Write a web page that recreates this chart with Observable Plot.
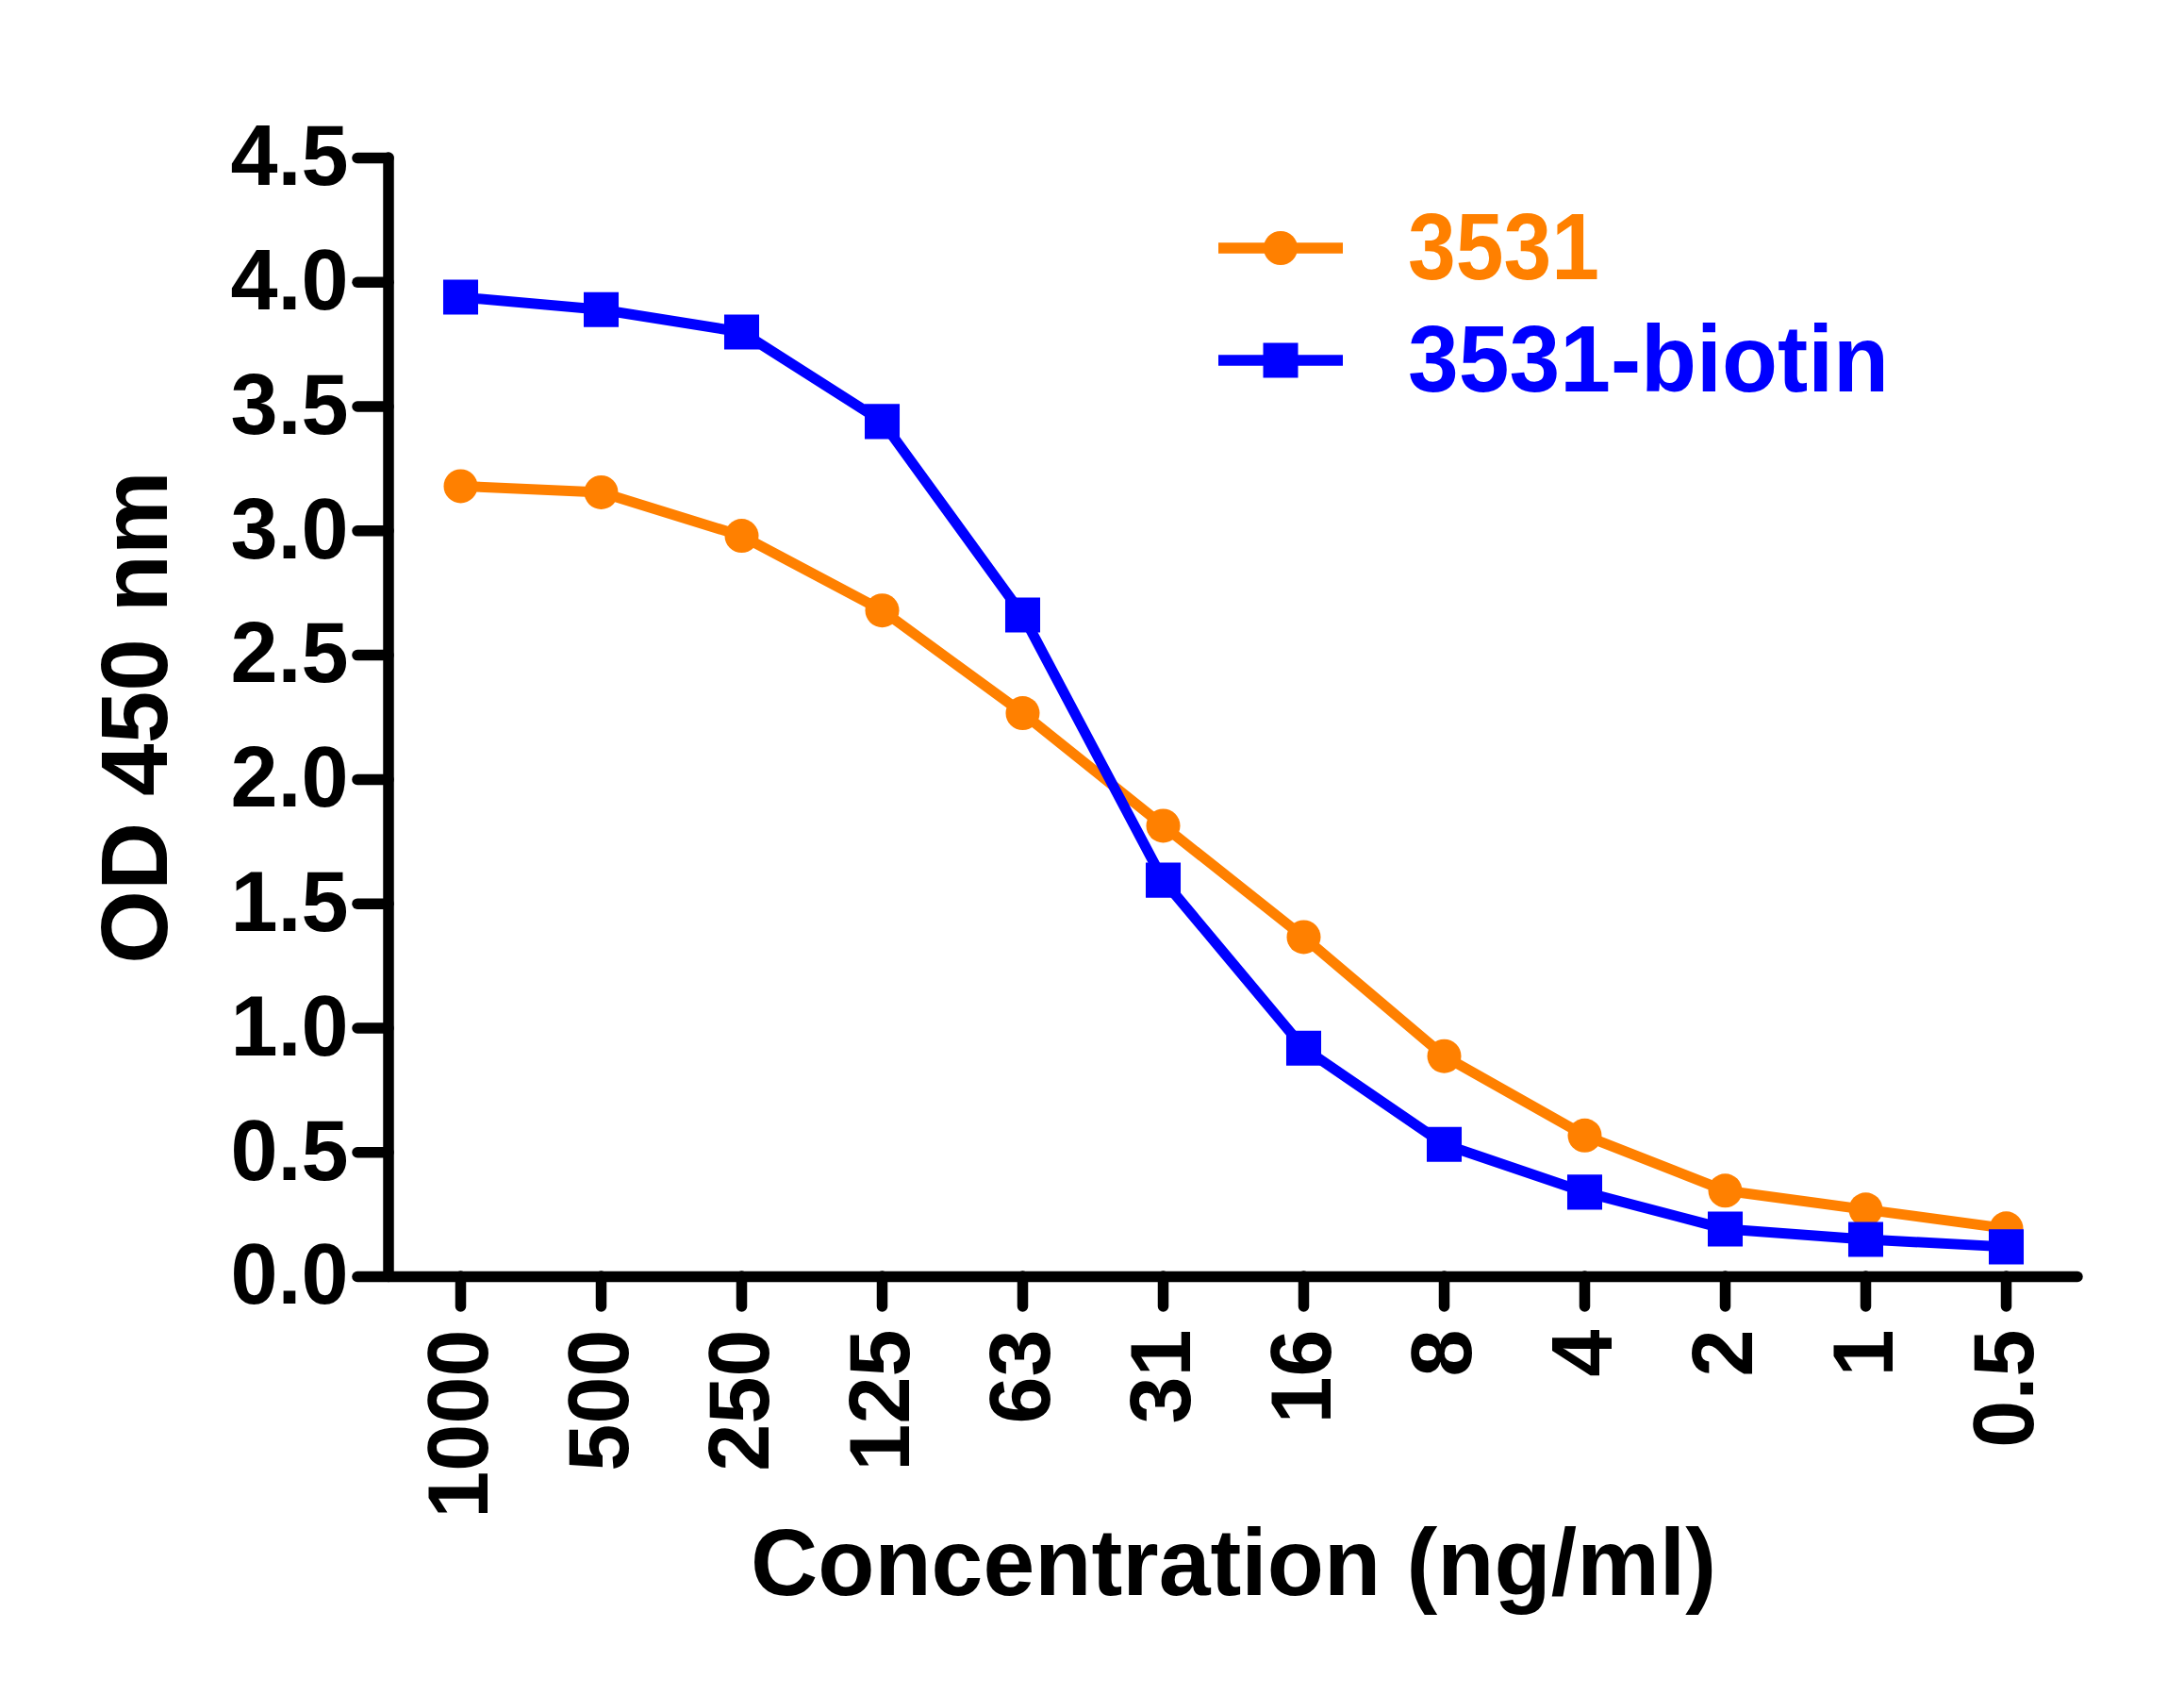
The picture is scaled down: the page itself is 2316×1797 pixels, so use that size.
<!DOCTYPE html>
<html>
<head>
<meta charset="utf-8">
<script src="https://cdn.jsdelivr.net/npm/d3@7"></script>
<script src="https://cdn.jsdelivr.net/npm/@observablehq/plot@0.6"></script>
<style>
  html, body { margin: 0; padding: 0; background: #fff; overflow: hidden; }
  #chart svg { display: block; }
</style>
</head>
<body>
<div id="chart"></div>
<script>
// ---- data ----
const concentrations = ["1000", "500", "250", "125", "63", "31", "16", "8", "4", "2", "1", "0.5"];
const od3531       = [3.18, 3.155, 2.98, 2.68, 2.267, 1.814, 1.366, 0.887, 0.568, 0.346, 0.270, 0.194];
const od3531Biotin = [3.94, 3.89, 3.80, 3.44, 2.662, 1.595, 0.919, 0.532, 0.340, 0.192, 0.150, 0.120];
const yTicks = [0, 0.5, 1, 1.5, 2, 2.5, 3, 3.5, 4, 4.5];
const seriesNames = ["3531", "3531-biotin"];
const seriesColors = ["#FF8000", "#0000FF"];
const seriesSymbols = ["circle", "square"];
const xLabel = "Concentration (ng/ml)";
const yLabel = "OD 450 nm";

// ---- tables built from the arrays ----
const toRows = (values, name) => concentrations.map((c, i) => ({conc: c, od: values[i], series: name}));
const rowsA = toRows(od3531, seriesNames[0]);
const rowsB = toRows(od3531Biotin, seriesNames[1]);

// ---- layout ----
const W = 2316, H = 1797;
const M = {left: 412, right: 113, top: 167, bottom: 444};
const AXIS_W = 11.5, LINE_W = 11;

const plot = Plot.plot({
  width: W, height: H,
  marginLeft: M.left, marginRight: M.right, marginTop: M.top, marginBottom: M.bottom,
  style: "font-family: 'Liberation Sans', Arial, sans-serif; font-weight: bold; background: #fff; color: #000; overflow: visible;",
  x: {type: "point", domain: concentrations, padding: 0.5},
  y: {domain: [0, 4.5]},
  marks: [
    Plot.axisY({ticks: yTicks, tickFormat: d3.format(".1f"), tickSize: 33, tickPadding: 10,
                fontSize: 90, strokeWidth: AXIS_W, strokeLinecap: "round", label: null}),
    Plot.axisX({tickRotate: -90, tickSize: 32, tickPadding: 24,
                fontSize: 90, strokeWidth: AXIS_W, strokeLinecap: "round", label: null}),
    Plot.ruleY([0], {strokeWidth: AXIS_W, strokeLinecap: "round"}),
    Plot.line(rowsA, {x: "conc", y: "od", stroke: seriesColors[0], strokeWidth: LINE_W}),
    Plot.dot(rowsA, {x: "conc", y: "od", fill: seriesColors[0], symbol: seriesSymbols[0], r: 18}),
    Plot.line(rowsB, {x: "conc", y: "od", stroke: seriesColors[1], strokeWidth: LINE_W}),
    Plot.dot(rowsB, {x: "conc", y: "od", fill: seriesColors[1], symbol: seriesSymbols[1], r: 20.9}),
    Plot.text([xLabel], {text: d => d, frameAnchor: "bottom", textAnchor: "middle", dy: 337, lineAnchor: "bottom", fontSize: 100}),
    Plot.text([yLabel], {text: d => d, frameAnchor: "left", textAnchor: "middle", rotate: -90, dx: -236, lineAnchor: "bottom", fontSize: 100})
  ]
});

document.getElementById("chart").appendChild(plot);

const svg = d3.select(plot);
const ys = plot.scale("y");

// y axis line
svg.append("line")
  .attr("x1", M.left).attr("x2", M.left)
  .attr("y1", ys.apply(yTicks[yTicks.length - 1])).attr("y2", ys.apply(0))
  .attr("stroke", "#000").attr("stroke-width", AXIS_W).attr("stroke-linecap", "round");

// condense the x label like the reference
svg.selectAll("text").filter(function () { return this.textContent === xLabel; })
  .attr("textLength", 1024).attr("lengthAdjust", "spacingAndGlyphs");

// legend
const legend = svg.append("g").attr("class", "legend").attr("text-anchor", "start");
const legendTextLen = [203, 510];
seriesNames.forEach((name, i) => {
  const cy = 263 + i * 119;
  const g = legend.append("g");
  g.append("line").attr("x1", 1292).attr("x2", 1424).attr("y1", cy).attr("y2", cy)
    .attr("stroke", seriesColors[i]).attr("stroke-width", AXIS_W);
  const sym = seriesSymbols[i] === "circle" ? d3.symbolCircle : d3.symbolSquare;
  const size = seriesSymbols[i] === "circle" ? Math.PI * 18 * 18 : 37 * 37;
  g.append("path").attr("d", d3.symbol(sym, size)()).attr("transform", `translate(1358,${cy})`)
    .attr("fill", seriesColors[i]);
  g.append("text").attr("x", 1493).attr("y", cy + 33)
    .attr("text-anchor", "start")
    .attr("fill", seriesColors[i]).attr("font-size", 100).attr("font-weight", "bold")
    .attr("textLength", legendTextLen[i]).attr("lengthAdjust", "spacingAndGlyphs")
    .text(name);
});
</script>
</body>
</html>
